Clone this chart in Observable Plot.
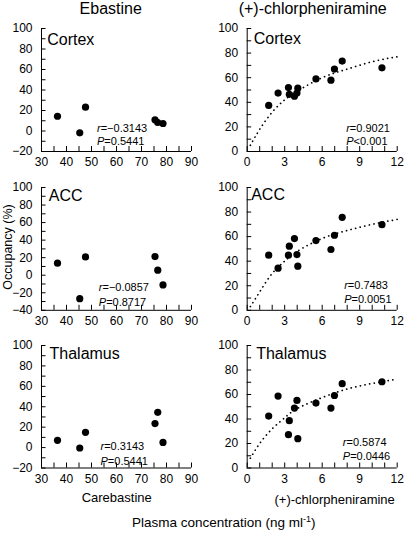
<!DOCTYPE html>
<html><head><meta charset="utf-8">
<script src="https://cdn.jsdelivr.net/npm/d3@7"></script>
<script src="https://cdn.jsdelivr.net/npm/@observablehq/plot@0.6"></script>
<style>
body{margin:0;background:#fff;}
#root{position:relative;width:408px;height:533px;font-family:"Liberation Sans",Arial,Helvetica,sans-serif;color:#000;overflow:hidden;background:#fff;}
.panel{position:absolute;}
#overlay{position:absolute;left:0;top:0;pointer-events:none;}
</style></head><body><div id="root"></div>
<script>
// ---- data ----
const regions = ["Cortex", "ACC", "Thalamus"];
const ebaConc = [36.4, 45.3, 47.6, 75.4, 76.5, 78.6];
const ebaCortex = [14.4, -1.8, 23.2, 10.9, 8.3, 7.3];
const ebaACC = [13.7, -26.7, 20.9, 21.2, 5.7, -11.1];
const ebaThalamus = [7.1, -0.4, 14.9, 23.5, 34.5, 5.1];
const chlConc = [1.72, 2.47, 3.3, 3.37, 3.78, 3.98, 4.05, 5.5, 6.7, 6.98, 7.6, 10.78];
const chlCortex = [37.5, 47.5, 52, 46.5, 45, 47.5, 51.5, 59, 58, 67, 73.5, 68];
const chlACC = [44.9, 34.3, 44.9, 52.2, 58.4, 45.4, 35.9, 56.8, 49.5, 61.1, 75.7, 69.7];
const chlThalamus = [42.4, 58.7, 27.2, 38.6, 48.9, 55.2, 23.9, 53, 48.9, 59.2, 68.8, 70.4];
const fitConc = [0.25, 1, 2, 3, 4, 6, 8, 10, 12];
const fitCortex = [5, 18, 32, 42, 49, 60, 67, 73, 77];
const fitACC = [3, 15, 30, 40, 48, 58.5, 65, 70, 74];
const fitThalamus = [8, 20, 32, 41, 48.5, 57.5, 64.5, 69, 72.5];
const ebaR = ["r=−0.3143", "r=−0.0857", "r=0.3143"];
const ebaP = ["P=0.5441", "P=0.8717", "P=0.5441"];
const chlR = ["r=0.9021", "r=0.7483", "r=0.5874"];
const chlP = ["P<0.001", "P=0.0051", "P=0.0446"];
// ticks
const ebaXTicks = [30, 40, 50, 60, 70, 80, 90];
const ebaXMinor = [30, 35, 40, 45, 50, 55, 60, 65, 70, 75, 80, 85, 90];
const chlXTicks = [0, 3, 6, 9, 12];
const chlXMinor = [0, 1, 2, 3, 4, 5, 6, 7, 8, 9, 10, 11, 12];
const yTicksM20 = [-20, 0, 20, 40, 60, 80, 100];
const yMinorM20 = [-20, -10, 0, 10, 20, 30, 40, 50, 60, 70, 80, 90, 100];
const yTicksM40 = [-40, -20, 0, 20, 40, 60, 80, 100];
const yMinorM40 = [-40, -30, -20, -10, 0, 10, 20, 30, 40, 50, 60, 70, 80, 90, 100];
const yTicks0 = [0, 20, 40, 60, 80, 100];
const yMinor0 = [0, 10, 20, 30, 40, 50, 60, 70, 80, 90, 100];

const FONT = '"Liberation Sans", Arial, Helvetica, sans-serif';
const root = document.getElementById("root");

function panel(o) {
  const mt = 10, mb = 26, W = 204;
  const fw = W - o.ml - o.mr;
  const H = mt + o.frameH + mb;
  const pts = o.xs.map((x, i) => ({x, y: o.ys[i]}));
  const marks = [
    Plot.ruleX([o.xDomain[0]], {stroke: "#000", strokeWidth: 1}),
    Plot.ruleY([o.yDomain[0]], {stroke: "#000", strokeWidth: 1}),
    Plot.tickX(o.xMinor, {x: d => d, insetTop: o.frameH - 5, stroke: "#000", strokeWidth: 1}),
    Plot.tickY(o.yMinor, {y: d => d, insetRight: fw - 4.5, stroke: "#000", strokeWidth: 1}),
    Plot.axisX(o.xTicks, {tickSize: 0, tickPadding: 6, fontSize: 12, label: null}),
    Plot.axisY(o.yTicks, {tickSize: 0, tickPadding: 9, fontSize: 12, label: null}),
  ];
  if (o.fitX) {
    const fit = o.fitX.map((x, i) => ({x, y: o.fitY[i]}));
    marks.push(Plot.line(fit, {x: "x", y: "y", curve: "natural", stroke: "#000", strokeWidth: 1.7,
      strokeDasharray: "0.1 4.6", strokeLinecap: "round"}));
  }
  marks.push(Plot.dot(pts, {x: "x", y: "y", r: 3.6, fill: "#000", stroke: "none"}));
  marks.push(Plot.text([o.name], {text: d => d, frameAnchor: "top-left", dx: o.ndx, dy: o.ndy,
    lineAnchor: "top", textAnchor: "start", fontSize: 16, fill: "#000"}));
  marks.push(Plot.text([o.r], {text: d => d, frameAnchor: "bottom-left", dx: o.sdx, dy: o.sdy[0],
    lineAnchor: "bottom", textAnchor: "start", fontSize: 11, fill: "#000"}));
  marks.push(Plot.text([o.p], {text: d => d, frameAnchor: "bottom-left", dx: o.sdx, dy: o.sdy[1],
    lineAnchor: "bottom", textAnchor: "start", fontSize: 11, fill: "#000"}));
  const svg = Plot.plot({
    width: W, height: H,
    marginLeft: o.ml, marginRight: o.mr, marginTop: mt, marginBottom: mb,
    x: {domain: o.xDomain, label: null},
    y: {domain: o.yDomain, label: null},
    style: {fontFamily: FONT, fontSize: "12px", color: "#000", background: "transparent", overflow: "visible"},
    marks
  });
  svg.querySelectorAll("text").forEach(t => {
    const s = t.textContent;
    if (/^[rP][=<]/.test(s)) {
      t.textContent = "";
      const ns = "http://www.w3.org/2000/svg";
      const a = document.createElementNS(ns, "tspan");
      a.setAttribute("font-style", "italic");
      a.textContent = s[0];
      const b = document.createElementNS(ns, "tspan");
      b.textContent = s.slice(1);
      t.append(a, b);
    }
  });
  svg.classList.add("panel");
  svg.style.left = o.left + "px";
  svg.style.top = (o.frameTop - mt) + "px";
  root.appendChild(svg);
}

const rows = [
  {frameTop: 28, frameH: 123, ebaY: ebaCortex, chlY: chlCortex, fit: fitCortex,
   ebaYD: [-20, 100], ebaYT: yTicksM20, ebaYM: yMinorM20,
   lname: [5.7, 5], rname: [6.6, 3.7], lsdx: 55.5, lsdy: [-19.5, -6.1], rsdx: 99, rsdy: [-19.2, -6.8]},
  {frameTop: 186.5, frameH: 122.8, ebaY: ebaACC, chlY: chlACC, fit: fitACC,
   ebaYD: [-40, 100], ebaYT: yTicksM40, ebaYM: yMinorM40,
   lname: [7.3, 2], rname: [4, 1], lsdx: 57.3, lsdy: [-18.8, -4.4], rsdx: 97, rsdy: [-21.1, -6.8]},
  {frameTop: 345, frameH: 122.5, ebaY: ebaThalamus, chlY: chlThalamus, fit: fitThalamus,
   ebaYD: [-20, 100], ebaYT: yTicksM20, ebaYM: yMinorM20,
   lname: [8, 2.3], rname: [9, 2.3], lsdx: 59, lsdy: [-18.1, -3.4], rsdx: 95.6, rsdy: [-21.8, -7.8]},
];

rows.forEach((row, i) => {
  panel({left: 0, frameTop: row.frameTop, frameH: row.frameH, ml: 41, mr: 13,
    xDomain: [30, 90], yDomain: row.ebaYD, xTicks: ebaXTicks, xMinor: ebaXMinor,
    yTicks: row.ebaYT, yMinor: row.ebaYM, xs: ebaConc, ys: row.ebaY,
    name: regions[i], ndx: row.lname[0], ndy: row.lname[1],
    r: ebaR[i], p: ebaP[i], sdx: row.lsdx, sdy: row.lsdy});
  panel({left: 204, frameTop: row.frameTop, frameH: row.frameH, ml: 42.7, mr: 11.3,
    xDomain: [0, 12], yDomain: [0, 100], xTicks: chlXTicks, xMinor: chlXMinor,
    yTicks: yTicks0, yMinor: yMinor0, xs: chlConc, ys: row.chlY,
    fitX: fitConc, fitY: row.fit,
    name: regions[i], ndx: row.rname[0], ndy: row.rname[1],
    r: chlR[i], p: chlP[i], sdx: row.rsdx, sdy: row.rsdy});
});

// overlay titles and axis labels
const ov = d3.select(root).append("svg").attr("id", "overlay")
  .attr("width", 408).attr("height", 533)
  .style("font-family", FONT).attr("fill", "#000");
ov.append("text").attr("x", 110.7).attr("y", 14).attr("text-anchor", "middle").attr("font-size", 16).text("Ebastine");
ov.append("text").attr("x", 312.7).attr("y", 14).attr("text-anchor", "middle").attr("font-size", 16).text("(+)-chlorpheniramine");
ov.append("text").attr("x", 116.7).attr("y", 502).attr("text-anchor", "middle").attr("font-size", 13).text("Carebastine");
ov.append("text").attr("x", 334.7).attr("y", 503.5).attr("text-anchor", "middle").attr("font-size", 13).text("(+)-chlorpheniramine");
ov.append("text").attr("transform", "translate(11.5,247) rotate(-90)").attr("text-anchor", "middle").attr("font-size", 12.5).text("Occupancy (%)");
const pc = ov.append("text").attr("x", 223.8).attr("y", 527).attr("text-anchor", "middle").attr("font-size", 13.5);
pc.append("tspan").text("Plasma concentration (ng ml");
pc.append("tspan").attr("dy", -5).attr("font-size", 9).text("-1");
pc.append("tspan").attr("dy", 5).text(")");
</script>
</body></html>
